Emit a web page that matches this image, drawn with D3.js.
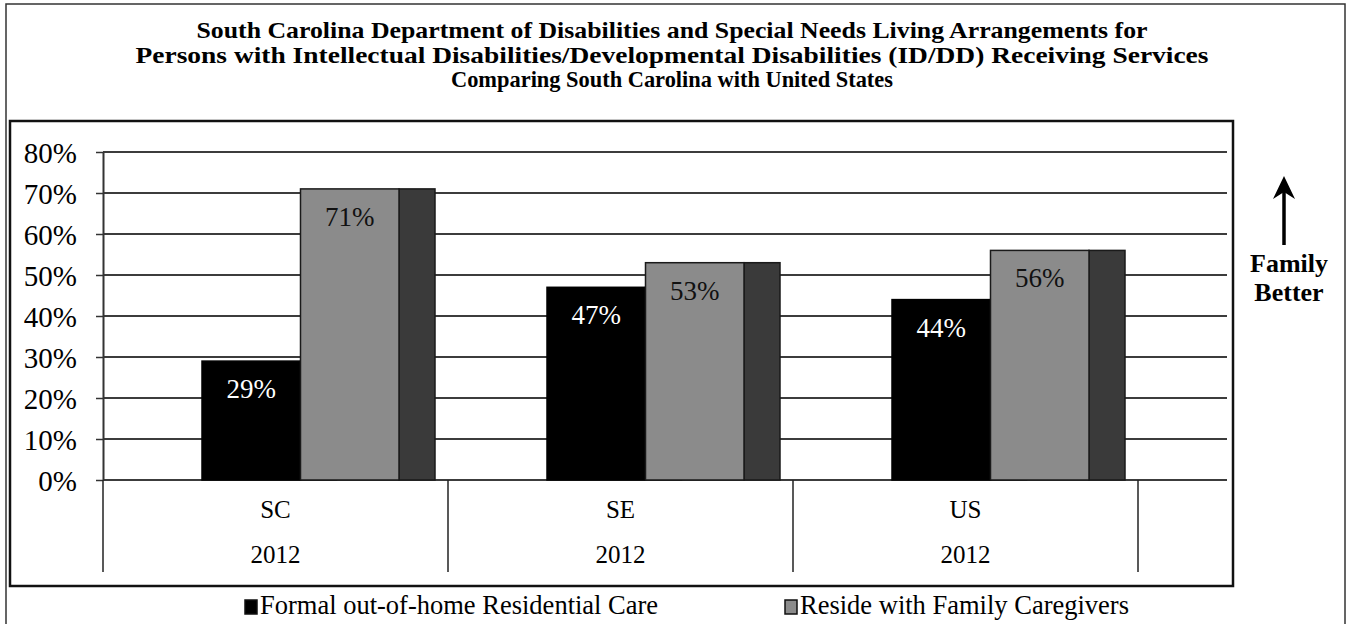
<!DOCTYPE html>
<html>
<head>
<meta charset="utf-8">
<script src="https://cdn.jsdelivr.net/npm/d3@7"></script>
<style>
    body { margin: 0; background: #fff; }
    svg text { font-family: "Liberation Serif", "Times New Roman", serif; }
</style>
</head>
<body>
<div id="chart"></div>
<script>
// data
const categories = ["SC", "SE", "US"];
const years = ["2012", "2012", "2012"];
const seriesNames = ["Formal out-of-home Residential Care", "Reside with Family Caregivers"];
const residentialCare = [29, 47, 44];
const familyCaregivers = [71, 53, 56];
const yTicks = [0, 10, 20, 30, 40, 50, 60, 70, 80];
const titleLines = [
    "South Carolina Department of Disabilities and Special Needs Living Arrangements for",
    "Persons with Intellectual Disabilities/Developmental Disabilities (ID/DD) Receiving Services",
    "Comparing South Carolina with United States"
];

class LivingChart {
    constructor(_config, _data){
        this.config = {
            parentElement: _config.parentElement,
            containerWidth: _config.containerWidth || 1348,
            containerHeight: _config.containerHeight || 624,
            plot: _config.plot || {left: 103, right: 1138, gridRight: 1227, top: 152, bottom: 480},
            depth: _config.depth || 36,
            font: "'Liberation Serif', 'Times New Roman', serif"
        }
        this.data = _data;
        this.initVis();
    }

    initVis(){
        let vis = this;
        let p = vis.config.plot;
        let font = vis.config.font;

        vis.svg = d3.select(vis.config.parentElement)
            .append("svg")
            .attr("width", vis.config.containerWidth)
            .attr("height", vis.config.containerHeight);

        // outer frame and inner chart frame
        vis.svg.append("rect")
            .attr("x", 6).attr("y", 4)
            .attr("width", 1339).attr("height", 630)
            .attr("fill", "none")
            .attr("stroke", "#333")
            .attr("stroke-width", 1.5);

        vis.svg.append("rect")
            .attr("x", 10).attr("y", 121)
            .attr("width", 1223).attr("height", 465)
            .attr("fill", "none")
            .attr("stroke", "#111")
            .attr("stroke-width", 2.5);

        // title
        const titleWidths = [951, 1073, 442];
        vis.svg.selectAll(".title")
            .data(titleLines)
            .enter()
        .append("text")
            .attr("class", "title")
            .attr("x", 672)
            .attr("y", (d, i) => 38 + i * 24.5)
            .attr("text-anchor", "middle")
            .style("font-family", font)
            .style("font-weight", "bold")
            .style("font-size", "24px")
            .attr("textLength", (d, i) => titleWidths[i])
            .attr("lengthAdjust", "spacingAndGlyphs")
            .text(d => d);

        // scales
        vis.yScale = d3.scaleLinear()
            .domain([0, 80])
            .range([p.bottom, p.top]);

        vis.xScale = d3.scaleBand()
            .domain(categories)
            .range([p.left, p.right]);

        vis.subScale = d3.scaleBand()
            .domain(seriesNames)
            .range([99, 296]);

        // gridlines
        vis.svg.selectAll(".grid")
            .data(yTicks)
            .enter()
        .append("line")
            .attr("class", "grid")
            .attr("x1", p.left)
            .attr("x2", p.gridRight)
            .attr("y1", d => vis.yScale(d))
            .attr("y2", d => vis.yScale(d))
            .attr("stroke", "#3c3c3c")
            .attr("stroke-width", 2);

        // y axis
        let yAxis = vis.svg.append("g")
            .attr("transform", "translate(" + p.left + ",0)")
            .call(d3.axisLeft(vis.yScale).tickValues(yTicks).tickSize(7).tickSizeOuter(0).tickFormat(d => d + "%"));
        yAxis.select(".domain").attr("stroke", "#333").attr("stroke-width", 2);
        yAxis.selectAll(".tick line").attr("stroke", "#333").attr("stroke-width", 1.5);
        yAxis.selectAll("text")
            .attr("x", -26)
            .attr("dy", "0.35em")
            .style("font-family", font)
            .style("font-size", "29px")
            .attr("fill", "#000");

        // category dividers
        let edges = categories.map(d => vis.xScale(d)).concat([p.right]);
        vis.svg.selectAll(".divider")
            .data(edges)
            .enter()
        .append("line")
            .attr("class", "divider")
            .attr("x1", d => d).attr("x2", d => d)
            .attr("y1", p.bottom).attr("y2", 572)
            .attr("stroke", "#222")
            .attr("stroke-width", 1.5);

        vis.svg.selectAll(".catLabel")
            .data(categories)
            .enter()
        .append("text")
            .attr("class", "catLabel")
            .attr("x", d => vis.xScale(d) + vis.xScale.bandwidth() / 2)
            .attr("y", 518)
            .attr("text-anchor", "middle")
            .style("font-family", font)
            .style("font-size", "25px")
            .text(d => d);

        vis.svg.selectAll(".yearLabel")
            .data(years)
            .enter()
        .append("text")
            .attr("class", "yearLabel")
            .attr("x", (d, i) => vis.xScale(categories[i]) + vis.xScale.bandwidth() / 2)
            .attr("y", 563)
            .attr("text-anchor", "middle")
            .style("font-family", font)
            .style("font-size", "25px")
            .text(d => d);

        // bars, with the dark depth side drawn first so the next front face covers it
        let fills = ["#000000", "#8b8b8b"];
        let sideFill = "#3a3a3a";
        let labelFill = ["#ffffff", "#111111"];
        vis.data.forEach(function(series, s) {
            let name = seriesNames[s];
            let g = vis.svg.append("g").attr("class", "series" + s);
            let bx = (d, i) => vis.xScale(categories[i]) + vis.subScale(name);

            g.selectAll(".side")
                .data(series)
                .enter()
            .append("rect")
                .attr("x", (d, i) => bx(d, i) + vis.subScale.bandwidth())
                .attr("y", d => vis.yScale(d))
                .attr("width", vis.config.depth)
                .attr("height", d => p.bottom - vis.yScale(d))
                .attr("fill", sideFill)
                .attr("stroke", "#1a1a1a")
                .attr("stroke-width", 1.5);

            g.selectAll(".front")
                .data(series)
                .enter()
            .append("rect")
                .attr("x", (d, i) => bx(d, i))
                .attr("y", d => vis.yScale(d))
                .attr("width", vis.subScale.bandwidth())
                .attr("height", d => p.bottom - vis.yScale(d))
                .attr("fill", fills[s])
                .attr("stroke", s === 0 ? "#000" : "#1a1a1a")
                .attr("stroke-width", 1.5);
        });

        // value labels on top of the others
        vis.data.forEach(function(series, s) {
            let name = seriesNames[s];
            vis.svg.selectAll(".valLabel" + s)
                .data(series)
                .enter()
            .append("text")
                .attr("class", "valLabel" + s)
                .attr("x", (d, i) => vis.xScale(categories[i]) + vis.subScale(name) + vis.subScale.bandwidth() / 2)
                .attr("y", d => vis.yScale(d) + 37)
                .attr("text-anchor", "middle")
                .style("font-family", font)
                .style("font-size", "27px")
                .attr("fill", labelFill[s])
                .text(d => d + "%");
        });

        // side note
        vis.svg.append("line")
            .attr("x1", 1284).attr("x2", 1284)
            .attr("y1", 245).attr("y2", 186)
            .attr("stroke", "#000")
            .attr("stroke-width", 3.5);
        vis.svg.append("path")
            .attr("d", "M1284,176 L1273,199 L1284,192 L1295,199 Z")
            .attr("fill", "#000");
        vis.svg.selectAll(".note")
            .data(["Family", "Better"])
            .enter()
        .append("text")
            .attr("class", "note")
            .attr("x", 1289)
            .attr("y", (d, i) => 272 + i * 29)
            .attr("text-anchor", "middle")
            .style("font-family", font)
            .style("font-weight", "bold")
            .style("font-size", "26px")
            .text(d => d);

        // legend
        let legendX = [245, 785];
        let legend = vis.svg.selectAll(".legend")
            .data(seriesNames)
            .enter()
        .append("g")
            .attr("class", "legend")
            .attr("transform", (d, i) => "translate(" + legendX[i] + ",600)");
        legend.append("rect")
            .attr("x", 0).attr("y", 0)
            .attr("width", 12).attr("height", 14)
            .attr("fill", (d, i) => fills[i])
            .attr("stroke", "#111")
            .attr("stroke-width", 1.5);
        legend.append("text")
            .attr("x", 15)
            .attr("y", 14)
            .style("font-family", font)
            .style("font-size", "26.5px")
            .text(d => d);
    }
}

let chart = new LivingChart({parentElement: "#chart"}, [residentialCare, familyCaregivers]);
</script>
</body>
</html>
